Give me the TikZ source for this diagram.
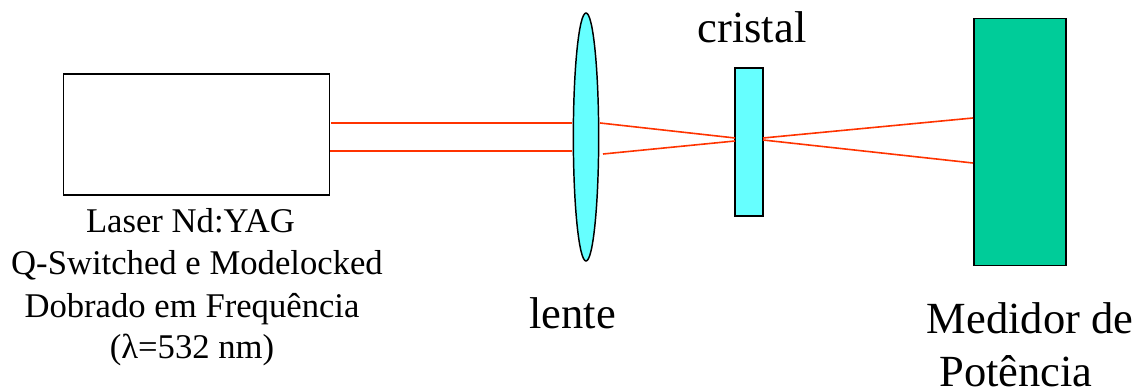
\documentclass[tikz,border=0pt]{standalone}
\usepackage{fontspec}
\usetikzlibrary{shapes.geometric}
\setmainfont{Liberation Serif}
\definecolor{rayred}{RGB}{255,51,0}
\definecolor{lenscol}{RGB}{102,255,255}
\definecolor{metercol}{RGB}{0,204,153}
\tikzset{
  box/.style={draw=black,line width=1.1pt,inner sep=0pt},
  ray/.style={draw=rayred,line width=1.2pt},
  lbl/.style={inner sep=0pt,align=center,text=black,anchor=base},
  small/.style={font=\fontsize{26pt}{31.3pt}\selectfont},
  big/.style={font=\fontsize{33.4pt}{38pt}\selectfont}
}
\begin{document}
\begin{tikzpicture}[x=0.75pt,y=-0.75pt]
\useasboundingbox (0,0) rectangle (1142,388);
\node[box,fill=white,minimum width=199.5pt,minimum height=91pt] (laser) at (196.5,134.5) {};
\node[box,fill=lenscol,minimum width=20.8pt,minimum height=110.8pt] (crystal) at (749,142) {};
\node[box,fill=metercol,minimum width=69pt,minimum height=185pt] (meter) at (1020,142) {};
\node[box,fill=lenscol,ellipse,minimum width=19pt,minimum height=186pt] (lens) at (586,137) {};
\coordinate (a1) at (331,123); \coordinate (a2) at (572,123);
\coordinate (b1) at (330,151); \coordinate (b2) at (572,151);
\coordinate (c1) at (600,123); \coordinate (c2) at (735,138);
\coordinate (d1) at (603,154); \coordinate (d2) at (735,141);
\coordinate (e1) at (763,138); \coordinate (e2) at (973,118);
\coordinate (f1) at (763,140); \coordinate (f2) at (973,163);
\draw[ray] (a1)--(a2); \draw[ray] (b1)--(b2); \draw[ray] (c1)--(c2);
\draw[ray] (d1)--(d2); \draw[ray] (e1)--(e2); \draw[ray] (f1)--(f2);
\node[lbl,small] (t1a) at (190.5,233) {Laser Nd:YAG};
\node[lbl,small] (t1b) at (197,275) {Q-Switched e Modelocked};
\node[lbl,small] (t1c) at (192,317) {Dobrado em Frequência};
\node[lbl,small] (t1d) at (192,358) {(λ=532 nm)};
\node[lbl,big] (t2) at (572.5,328) {lente};
\node[lbl,big] (t3) at (752,43) {cristal};
\node[lbl,big] (t4) at (1030,334) {Medidor de};
\node[lbl,big] (t5) at (1016,386) {Potência};
\end{tikzpicture}
\end{document}
